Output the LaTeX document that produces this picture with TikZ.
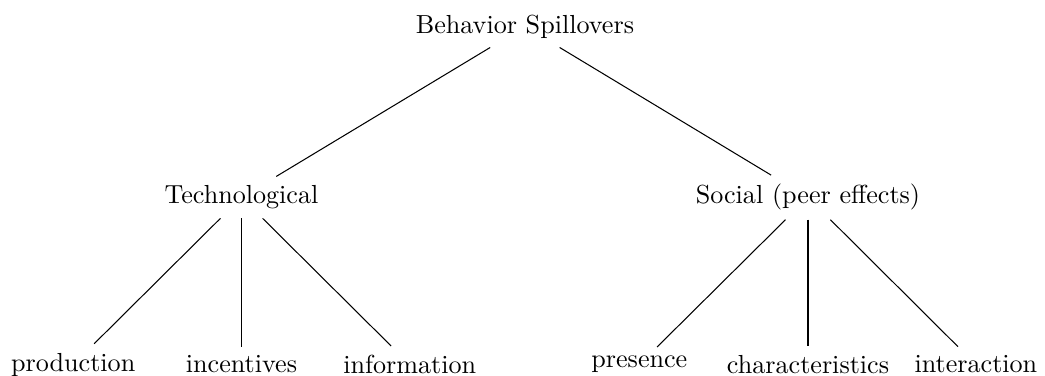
\documentclass[tikz,border=0pt]{standalone}
\usepackage{tikz}

\begin{document}
\begin{tikzpicture}
                    \useasboundingbox (-7.066,0.357) rectangle (7.0,-4.704);

                    \node (root) at (0,0) {Behavior Spillovers};

                    \node (tech) at (-3.815,-2.3) {Technological};
                    \node (soc) at (3.81,-2.3) {Social (peer effects)};

                    \node (prod) at (-6.08,-4.55) {production};
                    \node (inc) at (-3.815,-4.55) {incentives};
                    \node (inf) at (-1.55,-4.55) {information};

                    \node (pres) at (1.54,-4.55) {presence};
                    \node (char) at (3.81,-4.55) {characteristics};
                    \node (inter) at (6.07,-4.55) {interaction};

                    \draw (root) -- (tech);
                    \draw (root) -- (soc);

                    \foreach \leaf in {prod,inc,inf} {
                            \draw (tech) -- (\leaf);
                        }
                    \foreach \leaf in {pres,char,inter} {
                            \draw (soc) -- (\leaf);
                        }

                \end{tikzpicture}
\end{document}
